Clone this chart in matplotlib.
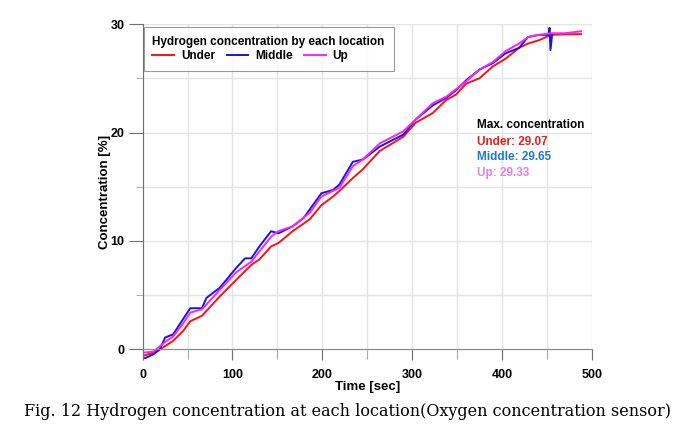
import numpy as np
import matplotlib
matplotlib.use("Agg")
import matplotlib.pyplot as plt
from matplotlib.ticker import MultipleLocator

plt.rcParams['font.family'] = ['Liberation Sans', 'DejaVu Sans']
plt.rcParams['font.weight'] = 'bold'

# values
t_under = [0, 12, 25, 34, 45, 53, 66, 86, 104, 121, 130, 143, 151, 167, 186, 199,
           212, 219, 234, 245, 264, 290, 304, 323, 338, 349, 360, 375, 390, 404,
           419, 429, 441, 455, 470, 488]
c_under = [-0.6, -0.3, 0.3, 0.8, 1.7, 2.6, 3.1, 4.9, 6.4, 7.8, 8.3, 9.5, 9.8, 10.9,
           12.0, 13.3, 14.1, 14.6, 15.8, 16.6, 18.3, 19.6, 20.9, 21.8, 23.0, 23.5,
           24.5, 25.0, 26.1, 26.8, 27.8, 28.2, 28.5, 29.0, 29.05, 29.07]

t_middle = [0, 12, 19, 25, 34, 45, 53, 66, 71, 86, 104, 114, 121, 130, 143, 151,
            167, 179, 186, 199, 212, 219, 234, 245, 264, 290, 304, 323, 338, 349,
            360, 375, 390, 404, 419, 429, 441, 452, 453, 454, 456]
c_middle = [-0.9, -0.45, 0.0, 1.1, 1.4, 2.8, 3.8, 3.8, 4.75, 5.7, 7.5, 8.4, 8.4,
            9.5, 10.9, 10.7, 11.35, 12.1, 12.9, 14.4, 14.7, 15.2, 17.3, 17.5, 18.7,
            19.8, 21.2, 22.5, 23.2, 23.9, 24.8, 25.8, 26.4, 27.3, 27.8, 28.8, 29.0,
            29.0, 29.65, 27.6, 29.1]

t_up = [0, 12, 25, 34, 45, 53, 66, 86, 104, 121, 143, 151, 167, 186, 199, 219,
        234, 245, 264, 290, 304, 323, 338, 360, 375, 390, 404, 419, 429, 441, 455,
        470, 488]
c_up = [-0.3, -0.2, 0.7, 1.2, 2.4, 3.4, 3.7, 5.5, 7.1, 8.1, 10.4, 10.9, 11.35,
        12.6, 14.1, 14.9, 16.9, 17.5, 19.0, 20.1, 21.2, 22.7, 23.3, 24.7, 25.8,
        26.5, 27.5, 28.2, 28.8, 29.0, 29.15, 29.15, 29.33]

max_labels = ["Under: 29.07", "Middle: 29.65", "Up: 29.33"]

fig = plt.figure(figsize=(6.97, 4.37), dpi=100)
ax = fig.add_axes([0.2047, 0.178, 0.6443, 0.767])

ax.plot(t_under, c_under, color='#ff1010', lw=1.4, label='Under')
ax.plot(t_middle, c_middle, color='#1515e0', lw=1.4, label='Middle')
ax.plot(t_up, c_up, color='#ff20ff', lw=1.4, label='Up')

ax.set_xlim(0, 500)
ax.set_ylim(-0.9, 30)
ax.xaxis.set_major_locator(MultipleLocator(100))
ax.xaxis.set_minor_locator(MultipleLocator(50))
ax.yaxis.set_major_locator(MultipleLocator(10))
ax.yaxis.set_minor_locator(MultipleLocator(5))
ax.grid(True, which='both', color='#e4e4e4', lw=1)
ax.set_axisbelow(True)

for s in ['top', 'right']:
    ax.spines[s].set_visible(False)
ax.spines['bottom'].set_position(('data', 0))
ax.spines['bottom'].set_color('#8a8a8a')
ax.spines['left'].set_color('#707070')

ax.tick_params(axis='both', which='major', labelsize=9, colors='#707070', labelcolor='black')
ax.tick_params(axis='y', which='major', length=10, pad=3)
ax.tick_params(axis='y', which='minor', length=5, colors='#a0a0a0')
ax.tick_params(axis='x', which='major', length=8, pad=6)
ax.tick_params(axis='x', which='minor', length=7, colors='#a0a0a0')
for lb in ax.get_xticklabels() + ax.get_yticklabels():
    lb.set_fontweight('bold')

ax.set_xlabel('Time [sec]', fontsize=9.5, fontweight='bold')
ax.xaxis.set_label_coords(0.5, -0.066)
ax.set_ylabel('Concentration [%]', fontsize=9.5, fontweight='bold', labelpad=0)

leg = ax.legend(ncol=3, loc='upper left', bbox_to_anchor=(0.002, 0.992),
                borderaxespad=0, alignment='left',
                title='Hydrogen concentration by each location',
                fontsize=8.5, title_fontsize=8.5, frameon=True, fancybox=False,
                edgecolor='#808080', handlelength=1.8, handletextpad=0.6,
                columnspacing=1.0, borderpad=0.75, labelspacing=0.2)
leg.get_frame().set_linewidth(0.8)
leg.get_title().set_fontweight('bold')
for tx in leg.get_texts():
    tx.set_fontweight('bold')

ax.text(372.7, 20.7, 'Max. concentration', fontsize=8.5, fontweight='bold',
        color='black', va='center')
ax.text(372.7, 19.1, max_labels[0], fontsize=8.5, fontweight='bold', color='#e8201a', va='center')
ax.text(372.7, 17.7, max_labels[1], fontsize=8.5, fontweight='bold', color='#1f78c8', va='center')
ax.text(372.7, 16.3, max_labels[2], fontsize=8.5, fontweight='bold', color='#e080e8', va='center')

fig.text(0.499, 0.058, 'Fig. 12 Hydrogen concentration at each location(Oxygen concentration sensor)',
         ha='center', va='center', fontsize=11.5, fontweight='normal',
         family=['DejaVu Serif'])

fig.savefig('out.png', dpi=100)
